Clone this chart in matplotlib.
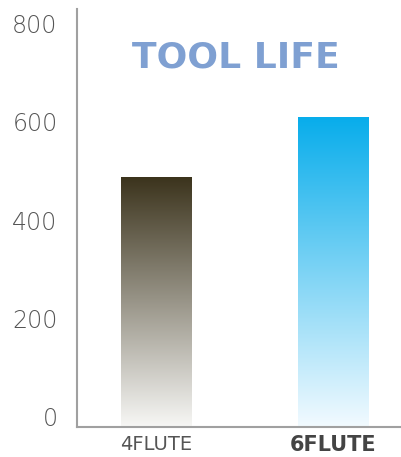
import numpy as np
import matplotlib.pyplot as plt
from matplotlib.colors import LinearSegmentedColormap

# data
categories = ["4FLUTE", "6FLUTE"]
tool_life = [488, 610]
yticks = [0, 200, 400, 600, 800]

top_colors = ["#3b331c", "#08adeb"]
bottom_colors = ["#f7f7f5", "#f2faff"]

fig = plt.figure(figsize=(4.01, 4.57), dpi=100)
ax = fig.add_axes([0.192, 0.0656, 0.808, 0.9144])

ymin, ymax = -22, 830
x = np.arange(len(categories))
width = 0.40
# bars run down to the bottom spine, which sits a bit below zero
heights = [v - ymin for v in tool_life]
bars = ax.bar(x, heights, bottom=ymin, width=width, color="none",
              edgecolor="none")

# gradient fill for each bar, clipped to the bar rectangle
grad = np.linspace(0, 1, 256).reshape(-1, 1)
for bar, val, top, bot in zip(bars, tool_life, top_colors, bottom_colors):
    cmap = LinearSegmentedColormap.from_list("g", [bot, top])
    x0 = bar.get_x()
    im = ax.imshow(grad, cmap=cmap, aspect="auto", origin="lower",
                   extent=[x0, x0 + bar.get_width(), ymin, val], zorder=2)
    im.set_clip_path(bar)

ax.set_xlim(-0.449, 1.381)
ax.set_ylim(ymin, ymax)

for s in ["top", "right"]:
    ax.spines[s].set_visible(False)
for s in ["left", "bottom"]:
    ax.spines[s].set_color("#a0a0a0")
    ax.spines[s].set_linewidth(1.5)

ax.set_yticks(yticks)
ax.set_yticklabels([str(v) for v in yticks], fontsize=17, color="#555555",
                   fontweight="light")
ax.tick_params(axis="y", length=0, pad=14)

ax.set_xticks(x)
ax.set_xticklabels(categories, fontsize=14, color="#555555")
ax.tick_params(axis="x", length=0, pad=6)
lbls = ax.get_xticklabels()
lbls[1].set_fontweight("bold")
lbls[1].set_color("#444444")
lbls[1].set_fontsize(15)

ax.text(0.49, 0.885, "TOOL LIFE", transform=ax.transAxes, ha="center",
        va="center", fontsize=26, fontweight="bold", color="#7fa0d2")

fig.savefig("out.png", dpi=100)
